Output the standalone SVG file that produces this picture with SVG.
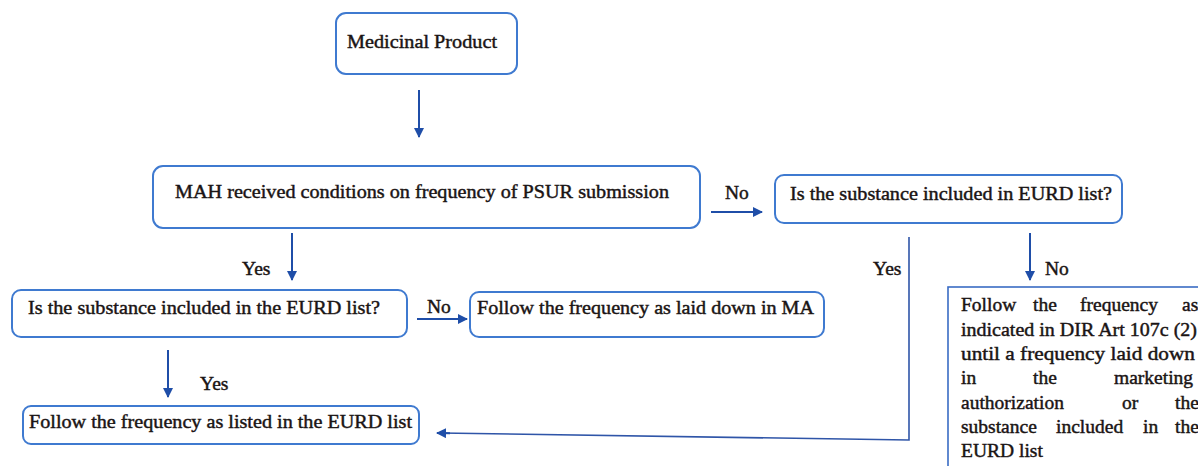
<svg xmlns="http://www.w3.org/2000/svg" width="1198" height="466" viewBox="0 0 1198 466">
<style>
.box{fill:#fff;stroke:#3f7ad0;stroke-width:2}
.sq{fill:#fff;stroke:#3a6cc4;stroke-width:1.6}
.t{font-family:'Liberation Serif','DejaVu Serif','Times New Roman',serif;font-weight:normal;font-size:19.5px;fill:#1a1414;stroke:#1a1414;stroke-width:0.45}
.c{stroke:#1f4ea8;stroke-width:2;fill:none}
.c2{stroke:#2f55a8;stroke-width:1.6;fill:none}
</style>
<defs>
<marker id="ah" viewBox="0 0 10 10" refX="9" refY="5" markerWidth="5" markerHeight="5" orient="auto" markerUnits="strokeWidth">
<path d="M0,0 L10,5 L0,10 z" fill="#1f4ea8"/>
</marker>
</defs>
<rect width="1198" height="466" fill="#fff"/>
<g id="n1"><rect class="box" x="336" y="13" width="181" height="61" rx="10"/><text class="t" x="347" y="48" textLength="150" lengthAdjust="spacingAndGlyphs">Medicinal Product</text></g>
<g id="n2"><rect class="box" x="153" y="166" width="547" height="62" rx="10"/><text class="t" x="175" y="198" textLength="494" lengthAdjust="spacingAndGlyphs">MAH received conditions on frequency of PSUR submission</text></g>
<g id="n3"><rect class="box" x="775" y="175" width="347" height="48" rx="9"/><text class="t" x="790" y="200" textLength="322" lengthAdjust="spacingAndGlyphs">Is the substance included in EURD list?</text></g>
<g id="n4"><rect class="box" x="12" y="290" width="395" height="47" rx="9"/><text class="t" x="28" y="314" textLength="352" lengthAdjust="spacingAndGlyphs">Is the substance included in the EURD list?</text></g>
<g id="n5"><rect class="box" x="470" y="292" width="354" height="45" rx="9"/><text class="t" x="477" y="314" textLength="337" lengthAdjust="spacingAndGlyphs">Follow the frequency as laid down in MA</text></g>
<g id="n6"><rect class="box" x="23" y="406" width="396" height="38" rx="8"/><text class="t" x="29" y="428" textLength="383" lengthAdjust="spacingAndGlyphs">Follow the frequency as listed in the EURD list</text></g>
<g id="n7"><rect class="sq" x="948" y="287" width="260" height="200"/>
<text class="t"><tspan x="961" y="311">Follow</tspan><tspan x="1033" y="311">the</tspan><tspan x="1080" y="311">frequency</tspan><tspan x="1182" y="311">as</tspan></text>
<text class="t" x="961" y="336" textLength="236" lengthAdjust="spacingAndGlyphs">indicated in DIR Art 107c (2)</text>
<text class="t" x="961" y="360" textLength="234" lengthAdjust="spacingAndGlyphs">until a frequency laid down</text>
<text class="t"><tspan x="961" y="384">in</tspan><tspan x="1033" y="384">the</tspan><tspan x="1114" y="384">marketing</tspan></text>
<text class="t"><tspan x="961" y="409">authorization</tspan><tspan x="1122" y="409">or</tspan><tspan x="1175" y="409">the</tspan></text>
<text class="t"><tspan x="961" y="433">substance</tspan><tspan x="1056" y="433">included</tspan><tspan x="1143" y="433">in</tspan><tspan x="1175" y="433">the</tspan></text>
<text class="t" x="961" y="457">EURD list</text>
</g>
<g id="connectors">
<line class="c" x1="419" y1="90" x2="419" y2="137" marker-end="url(#ah)"/>
<line class="c" x1="711" y1="212" x2="762" y2="212" marker-end="url(#ah)"/>
<line class="c" x1="292" y1="233" x2="292" y2="280" marker-end="url(#ah)"/>
<line class="c" x1="417" y1="319" x2="467" y2="319" marker-end="url(#ah)"/>
<line class="c" x1="168" y1="350" x2="168" y2="397" marker-end="url(#ah)"/>
<line class="c" x1="1030" y1="233" x2="1030" y2="280" marker-end="url(#ah)"/>
<polyline class="c2" points="909,237 909,440 440,433"/>
<line class="c" x1="450" y1="433.2" x2="437" y2="433" marker-end="url(#ah)"/>
</g>
<g id="labels">
<text class="t" x="725" y="199">No</text>
<text class="t" x="242" y="275">Yes</text>
<text class="t" x="427" y="313">No</text>
<text class="t" x="200" y="390">Yes</text>
<text class="t" x="873" y="275">Yes</text>
<text class="t" x="1045" y="275">No</text>
</g>
</svg>
